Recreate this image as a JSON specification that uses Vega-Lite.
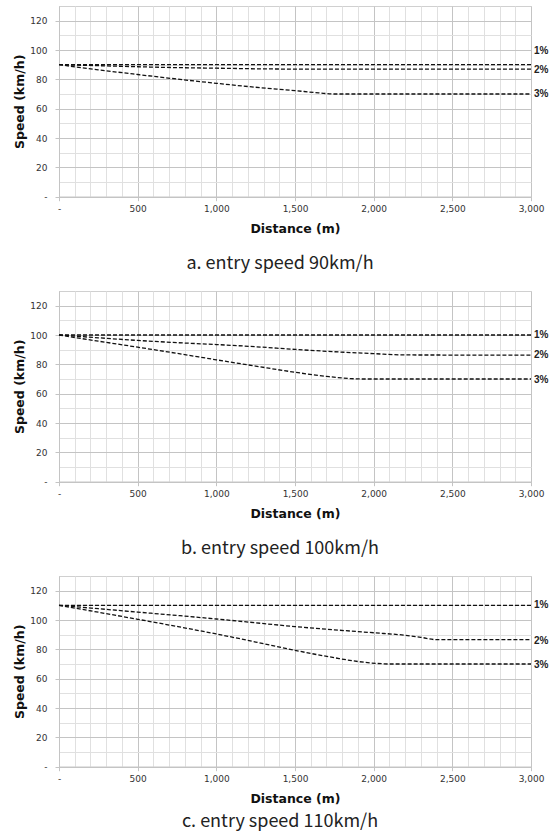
{
  "$schema": "https://vega.github.io/schema/vega-lite/v6.json",
  "padding": {"left": 13, "top": 5, "right": 0, "bottom": 0},
  "background": "white",
  "datasets": {
    "speed": [
      {"panel": 90, "grade": "1%", "distance": 0, "speed": 90},
      {"panel": 90, "grade": "1%", "distance": 3000, "speed": 90},
      {"panel": 90, "grade": "2%", "distance": 0, "speed": 90},
      {"panel": 90, "grade": "2%", "distance": 250, "speed": 89.3},
      {"panel": 90, "grade": "2%", "distance": 500, "speed": 88.6},
      {"panel": 90, "grade": "2%", "distance": 750, "speed": 88},
      {"panel": 90, "grade": "2%", "distance": 1000, "speed": 87.6},
      {"panel": 90, "grade": "2%", "distance": 1250, "speed": 87.2},
      {"panel": 90, "grade": "2%", "distance": 1500, "speed": 87},
      {"panel": 90, "grade": "2%", "distance": 3000, "speed": 87},
      {"panel": 90, "grade": "3%", "distance": 0, "speed": 90},
      {"panel": 90, "grade": "3%", "distance": 250, "speed": 86.5},
      {"panel": 90, "grade": "3%", "distance": 500, "speed": 83.3},
      {"panel": 90, "grade": "3%", "distance": 750, "speed": 80.2},
      {"panel": 90, "grade": "3%", "distance": 1000, "speed": 77.3},
      {"panel": 90, "grade": "3%", "distance": 1250, "speed": 74.6},
      {"panel": 90, "grade": "3%", "distance": 1500, "speed": 72.3},
      {"panel": 90, "grade": "3%", "distance": 1650, "speed": 70.8},
      {"panel": 90, "grade": "3%", "distance": 1750, "speed": 70},
      {"panel": 90, "grade": "3%", "distance": 3000, "speed": 70},
      {"panel": 100, "grade": "1%", "distance": 0, "speed": 100},
      {"panel": 100, "grade": "1%", "distance": 3000, "speed": 100},
      {"panel": 100, "grade": "2%", "distance": 0, "speed": 100},
      {"panel": 100, "grade": "2%", "distance": 250, "speed": 98.1},
      {"panel": 100, "grade": "2%", "distance": 500, "speed": 96.3},
      {"panel": 100, "grade": "2%", "distance": 750, "speed": 94.8},
      {"panel": 100, "grade": "2%", "distance": 1000, "speed": 93.5},
      {"panel": 100, "grade": "2%", "distance": 1250, "speed": 92},
      {"panel": 100, "grade": "2%", "distance": 1500, "speed": 90.2},
      {"panel": 100, "grade": "2%", "distance": 1750, "speed": 88.6},
      {"panel": 100, "grade": "2%", "distance": 2000, "speed": 87.3},
      {"panel": 100, "grade": "2%", "distance": 2200, "speed": 86.4},
      {"panel": 100, "grade": "2%", "distance": 3000, "speed": 86.3},
      {"panel": 100, "grade": "3%", "distance": 0, "speed": 100},
      {"panel": 100, "grade": "3%", "distance": 250, "speed": 95.8},
      {"panel": 100, "grade": "3%", "distance": 500, "speed": 91.7},
      {"panel": 100, "grade": "3%", "distance": 750, "speed": 87.5},
      {"panel": 100, "grade": "3%", "distance": 1000, "speed": 83.1},
      {"panel": 100, "grade": "3%", "distance": 1250, "speed": 78.8},
      {"panel": 100, "grade": "3%", "distance": 1500, "speed": 74.6},
      {"panel": 100, "grade": "3%", "distance": 1700, "speed": 71.8},
      {"panel": 100, "grade": "3%", "distance": 1850, "speed": 70.3},
      {"panel": 100, "grade": "3%", "distance": 1950, "speed": 70},
      {"panel": 100, "grade": "3%", "distance": 3000, "speed": 70},
      {"panel": 110, "grade": "1%", "distance": 0, "speed": 110},
      {"panel": 110, "grade": "1%", "distance": 3000, "speed": 110},
      {"panel": 110, "grade": "2%", "distance": 0, "speed": 110},
      {"panel": 110, "grade": "2%", "distance": 250, "speed": 107.7},
      {"panel": 110, "grade": "2%", "distance": 500, "speed": 105.4},
      {"panel": 110, "grade": "2%", "distance": 750, "speed": 103.1},
      {"panel": 110, "grade": "2%", "distance": 1000, "speed": 100.7},
      {"panel": 110, "grade": "2%", "distance": 1250, "speed": 98.1},
      {"panel": 110, "grade": "2%", "distance": 1500, "speed": 95.5},
      {"panel": 110, "grade": "2%", "distance": 1750, "speed": 93.3},
      {"panel": 110, "grade": "2%", "distance": 2000, "speed": 91.3},
      {"panel": 110, "grade": "2%", "distance": 2200, "speed": 89.6},
      {"panel": 110, "grade": "2%", "distance": 2300, "speed": 88.2},
      {"panel": 110, "grade": "2%", "distance": 2400, "speed": 86.6},
      {"panel": 110, "grade": "2%", "distance": 3000, "speed": 86.6},
      {"panel": 110, "grade": "3%", "distance": 0, "speed": 110},
      {"panel": 110, "grade": "3%", "distance": 250, "speed": 105.3},
      {"panel": 110, "grade": "3%", "distance": 500, "speed": 100.5},
      {"panel": 110, "grade": "3%", "distance": 750, "speed": 95.6},
      {"panel": 110, "grade": "3%", "distance": 1000, "speed": 90.5},
      {"panel": 110, "grade": "3%", "distance": 1250, "speed": 85},
      {"panel": 110, "grade": "3%", "distance": 1500, "speed": 79.3},
      {"panel": 110, "grade": "3%", "distance": 1750, "speed": 74.3},
      {"panel": 110, "grade": "3%", "distance": 1900, "speed": 71.7},
      {"panel": 110, "grade": "3%", "distance": 2050, "speed": 70.2},
      {"panel": 110, "grade": "3%", "distance": 2100, "speed": 70},
      {"panel": 110, "grade": "3%", "distance": 3000, "speed": 70}
    ],
    "labels": [
      {"panel": 90, "grade": "1%", "distance": 3000, "speed": 99.5},
      {"panel": 90, "grade": "2%", "distance": 3000, "speed": 86.5},
      {"panel": 90, "grade": "3%", "distance": 3000, "speed": 70},
      {"panel": 100, "grade": "1%", "distance": 3000, "speed": 100},
      {"panel": 100, "grade": "2%", "distance": 3000, "speed": 86.3},
      {"panel": 100, "grade": "3%", "distance": 3000, "speed": 69.6},
      {"panel": 110, "grade": "1%", "distance": 3000, "speed": 110},
      {"panel": 110, "grade": "2%", "distance": 3000, "speed": 85.5},
      {"panel": 110, "grade": "3%", "distance": 3000, "speed": 69.2}
    ]
  },
  "vconcat": [
    {
      "title": {"text": "a. entry speed 90km/h", "orient": "bottom", "offset": 20, "dx": -15},
      "width": 472, "height": 190.7,
      "encoding": {
        "x": {"field": "distance", "type": "quantitative", "scale": {"domain": [0, 3000], "nice": false},
          "axis": {"title": "Distance (m)", "values": [0,100,200,300,400,500,600,700,800,900,1000,1100,1200,1300,1400,1500,1600,1700,1800,1900,2000,2100,2200,2300,2400,2500,2600,2700,2800,2900,3000],
            "labelExpr": "datum.value == 0 ? '-' : (datum.value % 500 == 0 ? format(datum.value, ',') : '')",
            "gridColor": {"condition": {"test": "datum.value % 500 == 0", "value": "#c4c4c4"}, "value": "#e0e0e0"},
            "tickColor": {"condition": {"test": "datum.value % 500 == 0", "value": "#c4c4c4"}, "value": "rgba(0,0,0,0)"},
            "labelPadding": 4, "titlePadding": 9, "labelOverlap": false, "labelFlush": false}},
        "y": {"field": "speed", "type": "quantitative", "scale": {"domain": [0, 130], "nice": false},
          "axis": {"title": "Speed (km/h)", "values": [0,10,20,30,40,50,60,70,80,90,100,110,120],
            "labelExpr": "datum.value == 0 ? '-' : (datum.value % 20 == 0 ? format(datum.value, 'd') : '')",
            "gridColor": {"condition": {"test": "datum.value % 20 == 0", "value": "#c4c4c4"}, "value": "#e0e0e0"},
            "tickColor": {"condition": {"test": "datum.value % 20 == 0", "value": "#c4c4c4"}, "value": "rgba(0,0,0,0)"},
            "labelPadding": 8, "titlePadding": 3, "labelOverlap": false, "labelFlush": false}}
      },
      "layer": [
        {"data": {"name": "speed"}, "transform": [{"filter": "datum.panel == 90"}],
         "mark": {"type": "line", "color": "#111", "strokeWidth": 1.3, "strokeDash": [4, 2], "interpolate": "monotone"},
         "encoding": {"detail": {"field": "grade"}}},
        {"data": {"name": "labels"}, "transform": [{"filter": "datum.panel == 90"}],
         "mark": {"type": "text", "align": "left", "dx": 3, "font": "Liberation Sans", "fontWeight": "bold", "fontSize": 10, "color": "#222"},
         "encoding": {"text": {"field": "grade"}}}
      ]
    },
    {
      "title": {"text": "b. entry speed 100km/h", "orient": "bottom", "offset": 20, "dx": -15},
      "width": 472, "height": 190.7,
      "encoding": {
        "x": {"field": "distance", "type": "quantitative", "scale": {"domain": [0, 3000], "nice": false},
          "axis": {"title": "Distance (m)", "values": [0,100,200,300,400,500,600,700,800,900,1000,1100,1200,1300,1400,1500,1600,1700,1800,1900,2000,2100,2200,2300,2400,2500,2600,2700,2800,2900,3000],
            "labelExpr": "datum.value == 0 ? '-' : (datum.value % 500 == 0 ? format(datum.value, ',') : '')",
            "gridColor": {"condition": {"test": "datum.value % 500 == 0", "value": "#c4c4c4"}, "value": "#e0e0e0"},
            "tickColor": {"condition": {"test": "datum.value % 500 == 0", "value": "#c4c4c4"}, "value": "rgba(0,0,0,0)"},
            "labelPadding": 4, "titlePadding": 9, "labelOverlap": false, "labelFlush": false}},
        "y": {"field": "speed", "type": "quantitative", "scale": {"domain": [0, 130], "nice": false},
          "axis": {"title": "Speed (km/h)", "values": [0,10,20,30,40,50,60,70,80,90,100,110,120],
            "labelExpr": "datum.value == 0 ? '-' : (datum.value % 20 == 0 ? format(datum.value, 'd') : '')",
            "gridColor": {"condition": {"test": "datum.value % 20 == 0", "value": "#c4c4c4"}, "value": "#e0e0e0"},
            "tickColor": {"condition": {"test": "datum.value % 20 == 0", "value": "#c4c4c4"}, "value": "rgba(0,0,0,0)"},
            "labelPadding": 8, "titlePadding": 3, "labelOverlap": false, "labelFlush": false}}
      },
      "layer": [
        {"data": {"name": "speed"}, "transform": [{"filter": "datum.panel == 100"}],
         "mark": {"type": "line", "color": "#111", "strokeWidth": 1.3, "strokeDash": [4, 2], "interpolate": "monotone"},
         "encoding": {"detail": {"field": "grade"}}},
        {"data": {"name": "labels"}, "transform": [{"filter": "datum.panel == 100"}],
         "mark": {"type": "text", "align": "left", "dx": 3, "font": "Liberation Sans", "fontWeight": "bold", "fontSize": 10, "color": "#222"},
         "encoding": {"text": {"field": "grade"}}}
      ]
    },
    {
      "title": {"text": "c. entry speed 110km/h", "orient": "bottom", "offset": 8, "dx": -15},
      "width": 472, "height": 190.7,
      "encoding": {
        "x": {"field": "distance", "type": "quantitative", "scale": {"domain": [0, 3000], "nice": false},
          "axis": {"title": "Distance (m)", "values": [0,100,200,300,400,500,600,700,800,900,1000,1100,1200,1300,1400,1500,1600,1700,1800,1900,2000,2100,2200,2300,2400,2500,2600,2700,2800,2900,3000],
            "labelExpr": "datum.value == 0 ? '-' : (datum.value % 500 == 0 ? format(datum.value, ',') : '')",
            "gridColor": {"condition": {"test": "datum.value % 500 == 0", "value": "#c4c4c4"}, "value": "#e0e0e0"},
            "tickColor": {"condition": {"test": "datum.value % 500 == 0", "value": "#c4c4c4"}, "value": "rgba(0,0,0,0)"},
            "labelPadding": 4, "titlePadding": 9, "labelOverlap": false, "labelFlush": false}},
        "y": {"field": "speed", "type": "quantitative", "scale": {"domain": [0, 130], "nice": false},
          "axis": {"title": "Speed (km/h)", "values": [0,10,20,30,40,50,60,70,80,90,100,110,120],
            "labelExpr": "datum.value == 0 ? '-' : (datum.value % 20 == 0 ? format(datum.value, 'd') : '')",
            "gridColor": {"condition": {"test": "datum.value % 20 == 0", "value": "#c4c4c4"}, "value": "#e0e0e0"},
            "tickColor": {"condition": {"test": "datum.value % 20 == 0", "value": "#c4c4c4"}, "value": "rgba(0,0,0,0)"},
            "labelPadding": 8, "titlePadding": 3, "labelOverlap": false, "labelFlush": false}}
      },
      "layer": [
        {"data": {"name": "speed"}, "transform": [{"filter": "datum.panel == 110"}],
         "mark": {"type": "line", "color": "#111", "strokeWidth": 1.3, "strokeDash": [4, 2], "interpolate": "monotone"},
         "encoding": {"detail": {"field": "grade"}}},
        {"data": {"name": "labels"}, "transform": [{"filter": "datum.panel == 110"}],
         "mark": {"type": "text", "align": "left", "dx": 3, "font": "Liberation Sans", "fontWeight": "bold", "fontSize": 10, "color": "#222"},
         "encoding": {"text": {"field": "grade"}}}
      ]
    }
  ],
  "spacing": 94,
  "bounds": "flush",
  "config": {
    "view": {"stroke": "#d0d0d0"},
    "axis": {
      "labelFont": "DejaVu Sans", "labelFontSize": 9, "labelColor": "#333",
      "titleFont": "DejaVu Sans", "titleFontWeight": "bold", "titleFontSize": 12.5, "titleColor": "#111",
      "domainColor": "#c4c4c4", "tickSize": 4, "gridWidth": 1
    },
    "title": {"font": "Noto Sans CJK KR", "fontSize": 18, "fontWeight": "normal", "color": "#222", "anchor": "middle", "frame": "group"}
  }
}
